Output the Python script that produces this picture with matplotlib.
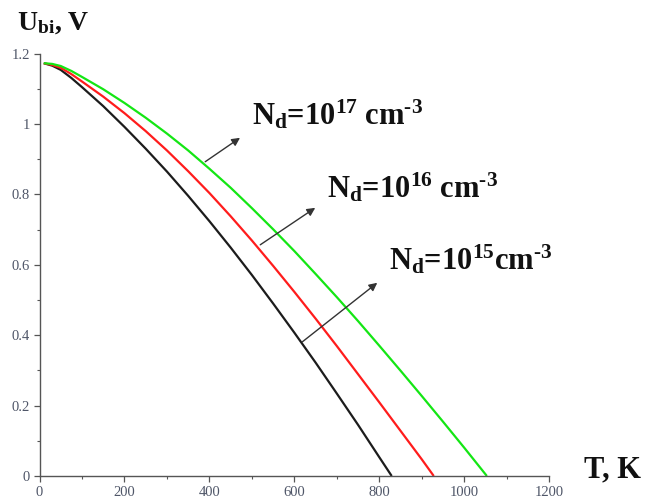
import matplotlib
matplotlib.use("Agg")
import matplotlib.pyplot as plt
from matplotlib.ticker import MultipleLocator

plt.rcParams['mathtext.fontset'] = 'custom'
plt.rcParams['mathtext.rm'] = 'Liberation Serif:bold'
plt.rcParams['mathtext.it'] = 'Liberation Serif:bold'
plt.rcParams['mathtext.bf'] = 'Liberation Serif:bold'

# Data (T in K, U_bi in V)
T_black = [10, 30, 50, 75, 100, 150, 200, 250, 300, 350, 400, 450, 500, 550, 600, 650, 700,
           750, 800, 829]
U_black = [1.173, 1.166, 1.154, 1.131, 1.105, 1.051, 0.992, 0.930, 0.865, 0.796, 0.724, 0.649,
           0.571, 0.490, 0.407, 0.322, 0.234, 0.145, 0.053, 0.0]

T_red = [10, 30, 50, 75, 100, 150, 200, 250, 300, 350, 400, 450, 500, 550, 600, 650, 700, 750,
         800, 850, 900, 928]
U_red = [1.173, 1.168, 1.160, 1.142, 1.121, 1.078, 1.031, 0.980, 0.925, 0.866, 0.804, 0.738,
         0.669, 0.597, 0.523, 0.447, 0.369, 0.289, 0.209, 0.128, 0.047, 0.0]

T_green = [10, 30, 50, 75, 100, 150, 200, 250, 300, 350, 400, 450, 500, 550, 600, 650, 700, 750,
           800, 850, 900, 950, 1000, 1053]
U_green = [1.173, 1.171, 1.165, 1.151, 1.134, 1.099, 1.060, 1.018, 0.973, 0.925, 0.873, 0.819,
           0.761, 0.701, 0.639, 0.574, 0.508, 0.440, 0.370, 0.299, 0.227, 0.154, 0.080, 0.0]

labels = ["N$_d$=10$^{17}$ cm$^{\u2010 3}$", "N$_d$=10$^{16}$ cm$^{\u2010 3}$",
          "N$_d$=10$^{15}$cm$^{\u2010 3}$"]

fig = plt.figure(figsize=(6.51, 5.01), dpi=100)
ax = fig.add_axes([0.0607, 0.0499, 0.7831, 0.8429])

ax.plot(T_black, U_black, color='#1c1c1c', lw=1.6, solid_capstyle='butt')
ax.plot(T_red, U_red, color='#ff1c1c', lw=1.6, solid_capstyle='butt')
ax.plot(T_green, U_green, color='#14e614', lw=1.6, solid_capstyle='butt')

ax.set_xlim(0, 1200)
ax.set_ylim(0, 1.2)
ax.xaxis.set_major_locator(MultipleLocator(200))
ax.xaxis.set_minor_locator(MultipleLocator(100))
ax.yaxis.set_minor_locator(MultipleLocator(0.1))
ax.set_yticks([0, 0.2, 0.4, 0.6, 0.8, 1.0, 1.2])
ax.set_yticklabels(['0', '0.2', '0.4', '0.6', '0.8', '1', '1.2'])

for s in ['top', 'right']:
    ax.spines[s].set_visible(False)
for s in ['left', 'bottom']:
    ax.spines[s].set_color('#555555')
    ax.spines[s].set_linewidth(1.0)

tick_color = '#4f5668'
ax.tick_params(which='major', direction='out', length=4, width=0.9, color='#555555',
               labelsize=10.5, labelcolor=tick_color, pad=3)
ax.tick_params(which='minor', direction='out', length=2.5, width=0.8, color='#555555')
for lab in ax.get_xticklabels() + ax.get_yticklabels():
    lab.set_family('Liberation Serif')

# Axis labels
fig.text(17 / 651, 1 - 30 / 501, r"U$_{bi}$, V", family='Liberation Serif', fontweight='bold',
         fontsize=20, ha='left', va='baseline', color='#111111')
fig.text(584 / 651, 1 - 477 / 501, "T, K", family='Liberation Serif', fontweight='bold',
         fontsize=22, ha='left', va='baseline', color='#111111')

# Annotations (arrows from curves to labels)
arrow_kw = dict(arrowstyle='-|>', color='#333333', lw=1.0, mutation_scale=12, shrinkA=0, shrinkB=0)
ax.annotate('', xy=(472, 0.961), xytext=(390, 0.893), arrowprops=arrow_kw)
ax.annotate('', xy=(649, 0.762), xytext=(519.6, 0.657), arrowprops=arrow_kw)
ax.annotate('', xy=(795, 0.549), xytext=(618.4, 0.381), arrowprops=arrow_kw)

label_pos = [(252, 125), (327, 198), (389, 270)]
for (px, py), txt in zip(label_pos, labels):
    fig.text(px / 651, 1 - py / 501, txt, family='Liberation Serif', fontweight='bold',
             fontsize=22, ha='left', va='baseline', color='#111111')

fig.savefig('out.png', dpi=100)
